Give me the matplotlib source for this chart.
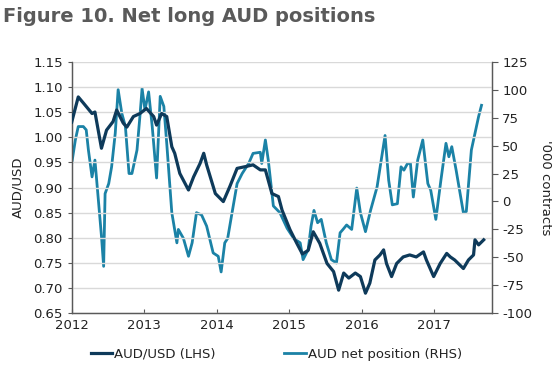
import matplotlib
matplotlib.use("Agg")
import matplotlib.pyplot as plt
from matplotlib.lines import Line2D

# AUD/USD (LHS)
aud_t = [2012.00, 2012.09, 2012.16, 2012.28, 2012.32, 2012.41, 2012.48, 2012.57, 2012.62,
         2012.71, 2012.76, 2012.85, 2012.94, 2013.03, 2013.13, 2013.17, 2013.24, 2013.31,
         2013.38, 2013.42, 2013.49, 2013.61, 2013.68, 2013.77, 2013.82, 2013.86, 2013.98,
         2014.09, 2014.18, 2014.28, 2014.41, 2014.50, 2014.60, 2014.67, 2014.76, 2014.85,
         2014.90, 2015.01, 2015.10, 2015.18, 2015.26, 2015.33, 2015.42, 2015.52, 2015.61,
         2015.68, 2015.75, 2015.82, 2015.91, 2015.98, 2016.05, 2016.11, 2016.18, 2016.25,
         2016.30, 2016.34, 2016.41, 2016.48, 2016.57, 2016.66, 2016.75, 2016.85, 2016.89,
         2016.99, 2017.08, 2017.17, 2017.22, 2017.28, 2017.40, 2017.47, 2017.54, 2017.56,
         2017.61, 2017.68]
aud_v = [1.030, 1.080, 1.068, 1.047, 1.050, 0.978, 1.014, 1.031, 1.054,
         1.028, 1.020, 1.041, 1.047, 1.057, 1.041, 1.024, 1.047, 1.041,
         0.981, 0.968, 0.928, 0.895, 0.921, 0.948, 0.968, 0.945, 0.888,
         0.872, 0.902, 0.938, 0.942, 0.945, 0.935, 0.935, 0.888, 0.882,
         0.855, 0.816, 0.790, 0.768, 0.775, 0.812, 0.789, 0.749, 0.733,
         0.696, 0.730, 0.720, 0.730, 0.723, 0.690, 0.710, 0.756, 0.766,
         0.776, 0.749, 0.723, 0.749, 0.762, 0.766, 0.762, 0.772, 0.756,
         0.723, 0.749, 0.769, 0.762, 0.756, 0.739, 0.756, 0.766, 0.796,
         0.786, 0.796]

# AUD net position, '000 contracts (RHS)
pos_t = [2012.00, 2012.05, 2012.09, 2012.16, 2012.20, 2012.23, 2012.28, 2012.32, 2012.34,
         2012.41, 2012.44, 2012.46, 2012.51, 2012.55, 2012.60, 2012.64, 2012.69, 2012.74,
         2012.79, 2012.83, 2012.90, 2012.94, 2012.97, 2013.01, 2013.06, 2013.11, 2013.17,
         2013.22, 2013.27, 2013.31, 2013.38, 2013.45, 2013.47, 2013.54, 2013.61, 2013.66,
         2013.72, 2013.79, 2013.86, 2013.95, 2014.02, 2014.06, 2014.11, 2014.15, 2014.20,
         2014.28, 2014.35, 2014.44, 2014.50, 2014.60, 2014.62, 2014.67, 2014.71, 2014.78,
         2014.87, 2014.97, 2015.06, 2015.15, 2015.19, 2015.26, 2015.30, 2015.34, 2015.39,
         2015.44, 2015.51, 2015.58, 2015.65, 2015.70, 2015.74, 2015.79, 2015.86, 2015.93,
         2015.98, 2016.05, 2016.12, 2016.21, 2016.26, 2016.32, 2016.37, 2016.42, 2016.49,
         2016.54, 2016.58, 2016.63, 2016.67, 2016.71, 2016.77, 2016.84, 2016.91, 2016.95,
         2017.02, 2017.09, 2017.16, 2017.20, 2017.24, 2017.30, 2017.40, 2017.44, 2017.51,
         2017.56, 2017.61, 2017.65]
pos_v = [34, 55, 67, 67, 64, 46, 22, 37, 22,
         -31, -58, 7, 16, 31, 61, 100, 79, 67,
         25, 25, 46, 76, 101, 82, 98, 67, 21,
         94, 85, 52, -10, -37, -25, -33, -49, -37,
         -10, -12, -22, -46, -49, -63, -37, -33, -14,
         16, 25, 34, 43, 44, 34, 55, 37, -4,
         -10, -24, -33, -37, -52, -43, -22, -8, -19,
         -16, -37, -52, -55, -28, -25, -21, -25, 12,
         -10, -27, -8, 13, 34, 59, 19, -3, -2,
         31, 28, 34, 34, 4, 37, 55, 16, 10,
         -16, 19, 52, 40, 49, 28, -10, -9, 46,
         61, 76, 86]

left_ticks = [0.65, 0.70, 0.75, 0.80, 0.85, 0.90, 0.95, 1.00, 1.05, 1.10, 1.15]
right_ticks = [-100, -75, -50, -25, 0, 25, 50, 75, 100, 125]
year_ticks = [2012, 2013, 2014, 2015, 2016, 2017]

dark = "#0e3a5a"
teal = "#1b82a6"
txt = "#222222"

fig = plt.figure(figsize=(5.53, 3.67), dpi=100)
ax = fig.add_axes([0.1297, 0.1463, 0.7594, 0.6856])
ax2 = ax.twinx()

ax.set_xlim(2012, 2017.79)
ax.set_ylim(0.65, 1.15)
ax2.set_ylim(-100, 125)

ax.set_yticks(left_ticks)
ax.set_yticklabels([f"{v:.2f}" for v in left_ticks])
ax2.set_yticks(right_ticks)
ax2.set_yticklabels([str(v) for v in right_ticks])
ax.set_xticks(year_ticks)
ax.set_xticklabels([str(y) for y in year_ticks])

ax.grid(axis="y", color="#d9d9d9", linewidth=1)
ax.set_axisbelow(True)

ax2.plot(pos_t, pos_v, color=teal, linewidth=2.0, zorder=2)
ax.plot(aud_t, aud_v, color=dark, linewidth=2.3, zorder=3)
ax.set_zorder(ax2.get_zorder() + 1)
ax.patch.set_visible(False)

for a in (ax, ax2):
    a.spines["top"].set_visible(False)
    for s in ("left", "right", "bottom"):
        a.spines[s].set_color("#595959")
        a.spines[s].set_linewidth(0.9)

ax.tick_params(axis="x", direction="in", length=3, color="#595959", labelsize=9.5, labelcolor=txt, pad=4)
ax.tick_params(axis="y", direction="out", length=3, color="#595959", labelsize=9.5, labelcolor=txt)
ax2.tick_params(axis="y", direction="out", length=4, color="#595959", labelsize=9.5, labelcolor=txt)

ax.set_ylabel("AUD/USD", fontsize=9.5, color=txt, labelpad=6)
ax2.set_ylabel("'000 contracts", fontsize=9.5, color=txt, rotation=270, labelpad=14)

fig.text(0.005, 0.955, "Figure 10. Net long AUD positions", fontsize=14, fontweight="bold",
         color="#5a5a5a", ha="left", va="center")

handles = [Line2D([], [], color=dark, linewidth=2.3), Line2D([], [], color=teal, linewidth=2.0)]
fig.legend(handles, ["AUD/USD (LHS)", "AUD net position (RHS)"], loc="center",
           bbox_to_anchor=(0.5, 0.035), ncol=2, frameon=False, fontsize=9.5,
           handlelength=1.6, handletextpad=0.15, columnspacing=5.2, labelcolor=txt)

fig.savefig("out.png", dpi=100)
